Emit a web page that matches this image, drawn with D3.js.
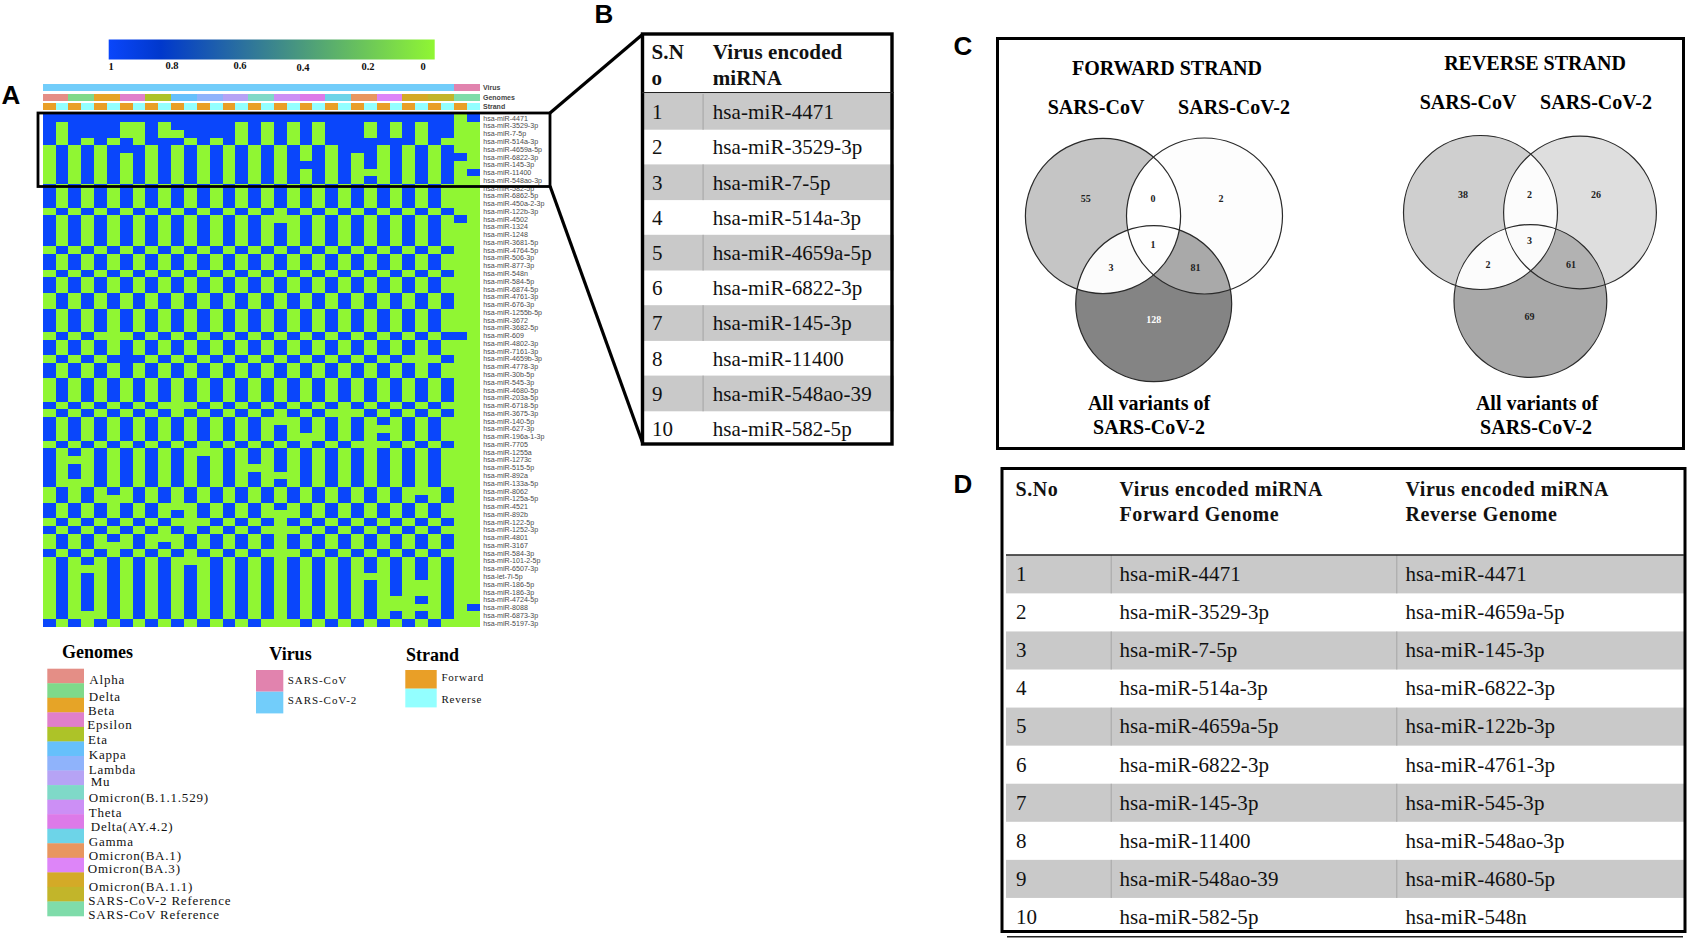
<!DOCTYPE html>
<html><head><meta charset="utf-8">
<script src="https://cdnjs.cloudflare.com/ajax/libs/d3/7.8.5/d3.min.js"></script>
<style>html,body{margin:0;padding:0;background:#fff}svg{display:block}</style>
</head><body><svg id="c" width="1688" height="940"></svg>
<script>
const SERIF='"Liberation Serif",serif', SANS='"Liberation Sans",sans-serif';
// ---------- data ----------
const miRNAs=["hsa-miR-4471","hsa-miR-3529-3p","hsa-miR-7-5p","hsa-miR-514a-3p","hsa-miR-4659a-5p","hsa-miR-6822-3p","hsa-miR-145-3p","hsa-miR-11400","hsa-miR-548ao-3p","hsa-miR-582-5p","hsa-miR-6862-5p","hsa-miR-450a-2-3p","hsa-miR-122b-3p","hsa-miR-4502","hsa-miR-1324","hsa-miR-1248","hsa-miR-3681-5p","hsa-miR-4764-5p","hsa-miR-506-3p","hsa-miR-877-3p","hsa-miR-548n","hsa-miR-584-5p","hsa-miR-6874-5p","hsa-miR-4761-3p","hsa-miR-676-3p","hsa-miR-1255b-5p","hsa-miR-3672","hsa-miR-3682-5p","hsa-miR-609","hsa-miR-4802-3p","hsa-miR-7161-3p","hsa-miR-4659b-3p","hsa-miR-4778-3p","hsa-miR-30b-5p","hsa-miR-545-3p","hsa-miR-4680-5p","hsa-miR-203a-5p","hsa-miR-6718-5p","hsa-miR-3675-3p","hsa-miR-140-5p","hsa-miR-627-3p","hsa-miR-196a-1-3p","hsa-miR-7705","hsa-miR-1255a","hsa-miR-1273c","hsa-miR-515-5p","hsa-miR-892a","hsa-miR-133a-5p","hsa-miR-8062","hsa-miR-125a-5p","hsa-miR-4521","hsa-miR-892b","hsa-miR-122-5p","hsa-miR-1252-3p","hsa-miR-4801","hsa-miR-3167","hsa-miR-584-3p","hsa-miR-101-2-5p","hsa-miR-6507-3p","hsa-let-7i-5p","hsa-miR-186-5p","hsa-miR-186-3p","hsa-miR-4724-5p","hsa-miR-8088","hsa-miR-6873-3p","hsa-miR-5197-3p"];
const genomes=["Alpha","Delta","Beta","Epsilon","Eta","Kappa","Lambda","Mu","Omicron(B.1.1.529)","Theta","Delta(AY.4.2)","Gamma","Omicron(BA.1)","Omicron(BA.3)","Omicron(BA.1.1)","SARS-CoV-2 Reference","SARS-CoV Reference"];
const genomeColors=["#e48e86","#7fd98a","#e6a427","#e07fcb","#adc328","#66c0fb","#8fb3fb","#b6a3f5","#7fd9c8","#cc8ff5","#dd7ae8","#6dd4e8","#e8965f","#dd85f8","#d4aa27","#c2b52a","#7fdcaa"];
const genomeVirus=[1,1,1,1,1,1,1,1,1,1,1,1,1,1,1,1,0];
const viruses=["SARS-CoV","SARS-CoV-2"], virusColors=["#e183ae","#72cdfa"];
const strands=["Forward","Reverse"], strandColors=["#e99f27","#93ffff"];
// one string per miRNA; each pair is one genome (forward, reverse); 1 = blue, 0 = green
const cellRows=[
"11 11 11 11 11 11 11 11 11 11 11 11 11 11 11 11 01",
"10 11 11 00 10 11 11 10 10 10 10 11 10 10 10 11 00",
"10 11 11 00 10 01 11 10 10 10 10 11 10 10 10 11 00",
"10 10 10 10 11 10 10 10 10 10 10 11 11 11 10 10 00",
"01 01 01 11 01 01 01 01 01 01 01 01 11 01 01 01 00",
"01 01 01 01 01 01 01 01 01 01 01 01 01 01 01 01 10",
"01 01 01 01 01 01 01 01 01 01 11 01 01 01 01 01 00",
"01 01 01 01 01 01 01 01 01 01 01 01 00 01 01 01 01",
"01 01 01 01 01 01 01 01 01 01 01 01 01 01 01 01 00",
"10 10 10 10 10 10 10 10 10 10 10 10 10 10 10 10 00",
"10 10 10 10 10 10 10 10 10 10 10 10 10 10 10 10 00",
"10 10 10 10 10 10 10 10 10 10 10 10 10 10 10 10 00",
"01 01 01 01 01 01 01 01 01 01 01 01 01 01 01 01 00",
"10 10 10 10 10 10 10 10 10 00 10 10 10 10 10 10 10",
"10 10 10 10 10 10 10 10 10 10 10 10 10 10 10 10 00",
"10 10 10 10 10 10 10 10 10 10 10 10 10 10 10 10 00",
"10 10 10 10 10 10 10 10 10 10 10 10 10 10 10 10 00",
"01 01 01 01 01 01 01 01 01 01 01 01 01 01 01 01 00",
"10 10 10 10 10 10 10 10 10 10 10 10 10 10 10 10 00",
"10 10 10 10 10 10 10 10 10 10 10 10 10 10 10 10 00",
"01 01 01 01 01 01 01 01 01 01 01 01 01 01 01 01 00",
"10 10 10 10 10 10 10 10 10 10 10 10 10 10 10 10 00",
"10 10 10 10 10 10 10 10 10 10 10 10 10 10 10 10 00",
"01 01 01 01 01 01 01 01 01 01 01 01 01 01 01 01 00",
"01 01 01 01 01 01 01 01 01 01 01 01 01 01 01 01 00",
"10 10 10 10 10 10 10 10 10 10 10 10 10 10 10 10 00",
"10 10 10 10 10 10 10 10 10 10 10 10 10 10 10 10 00",
"10 10 10 10 10 10 10 10 10 10 10 10 10 10 10 10 00",
"01 01 00 01 01 01 01 01 01 01 01 01 01 01 01 01 10",
"10 10 10 10 10 10 10 10 10 10 10 10 10 10 10 10 00",
"10 10 10 10 10 10 10 10 10 10 10 10 10 10 10 10 00",
"01 01 01 11 01 01 01 01 01 01 01 01 01 01 00 01 00",
"10 10 10 10 10 10 10 10 10 10 10 10 10 10 10 10 00",
"10 10 10 10 10 10 10 10 10 10 10 10 10 10 10 10 00",
"01 01 01 01 01 01 01 01 01 01 01 01 01 01 01 01 00",
"01 01 01 01 01 01 01 01 01 01 01 01 01 01 01 01 00",
"01 01 01 01 01 01 01 01 01 01 01 01 01 01 01 01 00",
"10 10 10 10 10 00 10 10 10 10 10 10 10 10 10 10 00",
"01 01 01 01 01 01 01 01 01 01 01 00 01 01 01 01 00",
"10 10 10 10 10 10 10 10 10 00 10 10 10 10 10 10 00",
"10 10 10 10 10 10 10 10 10 10 10 10 10 00 10 10 00",
"10 10 10 10 10 10 10 10 10 10 00 10 10 10 10 10 00",
"01 01 01 01 01 01 01 01 01 01 01 01 00 01 01 01 00",
"10 10 10 10 10 10 00 10 10 10 10 10 10 10 10 10 00",
"10 00 10 10 10 10 10 10 10 10 10 10 10 10 10 10 00",
"10 10 10 10 10 10 10 10 00 10 10 10 10 10 10 10 00",
"10 10 10 10 10 10 10 10 10 00 10 10 10 10 10 10 00",
"10 00 10 10 10 10 10 10 10 10 10 10 10 10 10 10 00",
"01 01 01 01 01 01 01 01 01 01 01 01 01 01 00 01 00",
"01 01 00 01 01 01 01 01 01 01 01 01 01 01 01 01 00",
"10 10 10 10 10 00 10 10 10 10 10 10 10 10 10 10 00",
"10 10 10 10 10 10 10 10 10 00 10 10 10 10 10 10 00",
"01 01 01 01 01 00 01 01 01 01 01 01 01 01 01 01 00",
"10 10 10 10 10 10 10 10 10 00 10 10 10 10 10 10 00",
"01 01 01 01 00 01 01 01 01 01 01 01 01 01 01 01 00",
"01 01 00 01 01 01 01 01 01 01 01 01 01 01 01 01 00",
"10 10 10 10 10 10 10 10 10 00 10 10 10 10 10 10 00",
"01 01 01 01 01 00 01 01 01 01 01 01 01 01 01 01 00",
"01 00 01 01 01 01 01 01 01 01 01 01 01 01 01 01 00",
"01 01 01 01 01 01 01 01 01 01 01 01 00 01 01 01 00",
"01 01 01 01 01 01 01 01 01 01 01 01 01 01 00 01 00",
"01 01 01 01 01 01 01 01 01 01 01 01 01 01 00 01 00",
"01 01 01 01 01 01 01 01 01 01 01 01 01 00 01 01 00",
"01 01 01 01 01 01 01 01 01 01 01 01 01 00 00 01 01",
"01 00 01 01 01 01 01 01 01 01 01 01 01 01 01 01 00",
"10 10 10 10 10 10 10 10 10 00 10 10 10 10 10 10 00"];
const scaleTicks=[1,0.8,0.6,0.4,0.2,0];
const tableB=["hsa-miR-4471","hsa-miR-3529-3p","hsa-miR-7-5p","hsa-miR-514a-3p","hsa-miR-4659a-5p","hsa-miR-6822-3p","hsa-miR-145-3p","hsa-miR-11400","hsa-miR-548ao-39","hsa-miR-582-5p"];
const tableDForward=tableB;
const tableDReverse=["hsa-miR-4471","hsa-miR-4659a-5p","hsa-miR-145-3p","hsa-miR-6822-3p","hsa-miR-122b-3p","hsa-miR-4761-3p","hsa-miR-545-3p","hsa-miR-548ao-3p","hsa-miR-4680-5p","hsa-miR-548n"];
// counts: A only, AB, B only, ABC, AC, BC, C only
const vennForward=[55,0,2,1,3,81,128];
const vennReverse=[38,2,26,3,2,61,69];

// ---------- helpers ----------
const svg=d3.select("#c");
function txt(x,y,s,o={}){
  return svg.append("text").attr("x",x).attr("y",y).attr("dy","0.35em").text(s)
    .attr("font-family",o.font||SERIF).attr("font-size",o.size||12)
    .attr("font-weight",o.bold?"bold":"normal").attr("fill",o.fill||"#111")
    .attr("text-anchor",o.anchor||"start")
    .attr("letter-spacing",o.ls||0);
}
// ---------- heat map ----------
const cells=cellRows.map(r=>r.replace(/ /g,""));
const colIdx=d3.range(genomes.length*2);
const xH=d3.scaleBand().domain(colIdx).range([42.7,479.5]);
const yH=d3.scaleBand().domain(miRNAs).range([114.3,627]);
const colorH=d3.scaleLinear().domain([0,0.82,1]).range(["#90f633","#0038cc","#0a46fb"]);
const gH=svg.append("g").attr("shape-rendering","crispEdges");
miRNAs.forEach((m,r)=>{
  gH.selectAll(null).data(colIdx).enter().append("rect")
    .attr("x",c=>xH(c)).attr("y",yH(m)).attr("width",xH.bandwidth()+.2).attr("height",yH.bandwidth()+.2)
    .attr("fill",c=>colorH(+cells[r][c]));
});
// annotation bars
const annG=svg.append("g").attr("shape-rendering","crispEdges");
const gX=d3.scaleBand().domain(genomes).range([42.7,479.5]);
annG.selectAll(null).data(genomes).enter().append("rect").attr("x",d=>gX(d)).attr("y",84.3).attr("width",gX.bandwidth()+.3).attr("height",7)
  .attr("fill",(d,i)=>virusColors[genomeVirus[i]]);
annG.selectAll(null).data(genomes).enter().append("rect").attr("x",d=>gX(d)).attr("y",93.7).attr("width",gX.bandwidth()+.3).attr("height",7)
  .attr("fill",(d,i)=>genomeColors[i]);
annG.selectAll(null).data(colIdx).enter().append("rect").attr("x",c=>xH(c)).attr("y",103.3).attr("width",xH.bandwidth()+.2).attr("height",7)
  .attr("fill",c=>strandColors[c%2]);
[["Virus",87.8],["Genomes",97.3],["Strand",107]].forEach(([s,y])=>txt(483,y,s,{font:SANS,size:7,bold:true,fill:"#444"}));
// row labels
svg.append("g").selectAll("text").data(miRNAs).enter().append("text")
  .attr("x",483.3).attr("y",d=>yH(d)+yH.bandwidth()/2).attr("dy","0.35em").text(d=>d)
  .attr("font-family",SANS).attr("font-size",7.1).attr("fill","#4a4a4a");
// colour bar
const defs=svg.append("defs");
const grad=defs.append("linearGradient").attr("id","cb");
[[0,1],[.16,.82],[1,0]].forEach(([o,v])=>grad.append("stop").attr("offset",o).attr("stop-color",colorH(v)));
svg.append("rect").attr("x",108.7).attr("y",39.5).attr("width",326).attr("height",20).attr("fill","url(#cb)");
const tickX=[111,172,240,303,368,423], tickY=[66.5,65,65,67,66,66.5];
scaleTicks.forEach((t,i)=>txt(tickX[i],tickY[i],String(t),{anchor:"middle",size:10.5,bold:true}));
// highlight box
svg.append("rect").attr("x",38).attr("y",113).attr("width",512).attr("height",73.5).attr("fill","none").attr("stroke","#000").attr("stroke-width",2.8);
const link=d3.line();
svg.append("path").attr("d",link([[550,113],[643,34]])).attr("stroke","#000").attr("stroke-width",3.2).attr("fill","none");
svg.append("path").attr("d",link([[550,186],[643,444]])).attr("stroke","#000").attr("stroke-width",3.2).attr("fill","none");
// panel letters
[["A",11,95],["B",604,14],["C",963,46],["D",963,484]].forEach(([s,x,y])=>txt(x,y,s,{font:SANS,size:26,bold:true,anchor:"middle",fill:"#000"}));
// ---------- legends ----------
txt(62,652,"Genomes",{size:18,bold:true,fill:"#000"});
const yG=d3.scaleBand().domain(genomes).range([668.7,916]);
svg.append("g").selectAll("rect").data(genomes).enter().append("rect")
 .attr("x",47.3).attr("y",d=>yG(d)).attr("width",36.7).attr("height",yG.bandwidth()+.3).attr("fill",(d,i)=>genomeColors[i]);
const gLabelX=[89.3,88.7,88,87.3,88,88.7,88.7,90.7,88.7,88.7,90.7,88.7,88.7,87.7,88.7,88.3,88.3];
const gLabelY=[680,696.7,711,725,739.7,755,769.7,782.3,797.7,812.7,827.3,842,855.7,869.3,886.7,900.7,915.3];
genomes.forEach((g,i)=>txt(gLabelX[i],gLabelY[i]-.5,g,{size:13,ls:.8}));
txt(269.3,654,"Virus",{size:18,bold:true,fill:"#000"});
txt(406,655,"Strand",{size:18,bold:true,fill:"#000"});
viruses.forEach((v,i)=>{
  svg.append("rect").attr("x",256).attr("y",670+21.7*i).attr("width",27.3).attr("height",21.7).attr("fill",virusColors[i]);
  txt(287.7,680+19.7*i,v,{size:11,ls:.95});
});
strands.forEach((s,i)=>{
  svg.append("rect").attr("x",405.3).attr("y",670+18.7*i).attr("width",31.4).attr("height",18.7).attr("fill",strandColors[i]);
  txt(441.5,677+22.3*i,s,{size:11,ls:.75});
});
// ---------- table B ----------
const rowB=d3.scaleBand().domain(d3.range(10)).range([94,446]);
tableB.forEach((m,i)=>{
  if(i%2===0){
    svg.append("rect").attr("x",643).attr("y",rowB(i)).attr("width",251).attr("height",rowB.bandwidth()+.5).attr("fill","#c9c9c9");
    svg.append("rect").attr("x",702.5).attr("y",rowB(i)).attr("width",1.2).attr("height",rowB.bandwidth()+.5).attr("fill","#aaa");
  }
  txt(652,rowB(i)+17.8,String(i+1),{size:21,fill:"#111"});
  txt(712.7,rowB(i)+17.8,m,{size:21,ls:.1,fill:"#111"});
});
svg.append("rect").attr("x",642.5).attr("y",34).attr("width",249.5).attr("height",410).attr("fill","none").attr("stroke","#000").attr("stroke-width",3.4);
svg.append("line").attr("x1",642).attr("x2",894).attr("y1",92.7).attr("y2",92.7).attr("stroke","#222").attr("stroke-width",1.2);
[["S.N",651.5,51.5],["o",651.5,77.5],["Virus encoded",712.7,51.5],["miRNA",712.7,77.5]].forEach(([s,x,y])=>txt(x,y,s,{size:21,bold:true,ls:.12,fill:"#111"}));
// ---------- venn ----------
const vennScaleF=d3.scaleLinear().domain([0,81,128]).range(["#ffffff","#a9a9a9","#848484"]);
const vennScaleR=d3.scaleLinear().domain([0,69]).range(["#ffffff","#a8a8a8"]);
function venn(id,circles,counts,labelPos,scale,ink){
  const g=svg.append("g");
  circles.forEach((c,i)=>defs.append("clipPath").attr("id",id+i).append("circle").attr("cx",c[0]).attr("cy",c[1]).attr("r",c[2]));
  const shade=v=>scale(v);
  const disk=(c,fill,clipId,parent)=>(parent||g).append("circle").attr("cx",c[0]).attr("cy",c[1]).attr("r",c[2]).attr("fill",fill).attr("clip-path",clipId?`url(#${clipId})`:null);
  const [a,b,c]=circles, [na,nab,nb,nabc,nac,nbc,nc]=counts;
  disk(a,shade(na)); disk(b,shade(nb)); disk(c,shade(nc));
  disk(b,shade(nab),id+0);
  disk(c,shade(nac),id+0);
  disk(c,shade(nbc),id+1);
  const inner=g.append("g").attr("clip-path",`url(#${id}0)`);
  disk(c,shade(nabc),id+1,inner);
  circles.forEach(k=>g.append("circle").attr("cx",k[0]).attr("cy",k[1]).attr("r",k[2]).attr("fill","none").attr("stroke","#2a2a2a").attr("stroke-width",1.2));
  counts.forEach((n,i)=>txt(labelPos[i][0],labelPos[i][1],String(n),{size:10,bold:true,anchor:"middle",fill:ink(n)}));
}
venn("vf",[[1103,216,77.6],[1204.5,216,78],[1153.7,303.7,78]],vennForward,
 [[1085.7,198],[1153,198],[1221,198],[1153,244],[1111,267],[1195.4,267],[1153.7,319]],vennScaleF,n=>n===128?"#fff":"#222");
venn("vr",[[1480.5,212.5,77],[1580,212.5,76.4],[1530.4,301,76.4]],vennReverse,
 [[1463,194],[1529.5,194],[1596,194],[1529.5,240],[1488,264],[1571,264],[1529.5,316]],vennScaleR,n=>"#222");
svg.append("rect").attr("x",997.5).attr("y",38.5).attr("width",686).attr("height",410).attr("fill","none").attr("stroke","#000").attr("stroke-width",3);
[["FORWARD STRAND",1167,68],["REVERSE STRAND",1535,63],["SARS-CoV",1096,107],["SARS-CoV-2",1234,107],["SARS-CoV",1468,102],["SARS-CoV-2",1596,102],
 ["All variants of",1149,403],["SARS-CoV-2",1149,427],["All variants of",1537,403],["SARS-CoV-2",1536,427]]
 .forEach(([s,x,y])=>txt(x,y,s,{size:20,bold:true,anchor:"middle",fill:"#000"}));
// ---------- table D ----------
const rowD=d3.scaleBand().domain(d3.range(10)).range([555.3,936]);
d3.range(10).forEach(i=>{
  if(i%2===0){
    svg.append("rect").attr("x",1006).attr("y",rowD(i)).attr("width",678).attr("height",rowD.bandwidth()).attr("fill","#c9c9c9");
    [1110.7,1396.3].forEach(x=>svg.append("rect").attr("x",x).attr("y",rowD(i)).attr("width",1).attr("height",rowD.bandwidth()).attr("fill","#a5a5a5"));
  }
  const cy=rowD(i)+18.5;
  txt(1016,cy,String(i+1),{size:21});
  txt(1119.5,cy,tableDForward[i],{size:21,ls:.1});
  txt(1405.5,cy,tableDReverse[i],{size:21,ls:.1});
});
svg.append("rect").attr("x",1002).attr("y",468.5).attr("width",683).attr("height",463).attr("fill","none").attr("stroke","#000").attr("stroke-width",3);
svg.append("line").attr("x1",1006).attr("x2",1684).attr("y1",555).attr("y2",555).attr("stroke","#222").attr("stroke-width",1.4);
svg.append("line").attr("x1",1007).attr("x2",1683).attr("y1",936.7).attr("y2",936.7).attr("stroke","#222").attr("stroke-width",1.4);
[["S.No",1015.5,488.5],["Virus encoded miRNA",1119.5,488.5],["Forward Genome",1119.5,514],["Virus encoded miRNA",1405.5,488.5],["Reverse Genome",1405.5,514]]
 .forEach(([s,x,y])=>txt(x,y,s,{size:20,bold:true,ls:.58}));
</script></body></html>
